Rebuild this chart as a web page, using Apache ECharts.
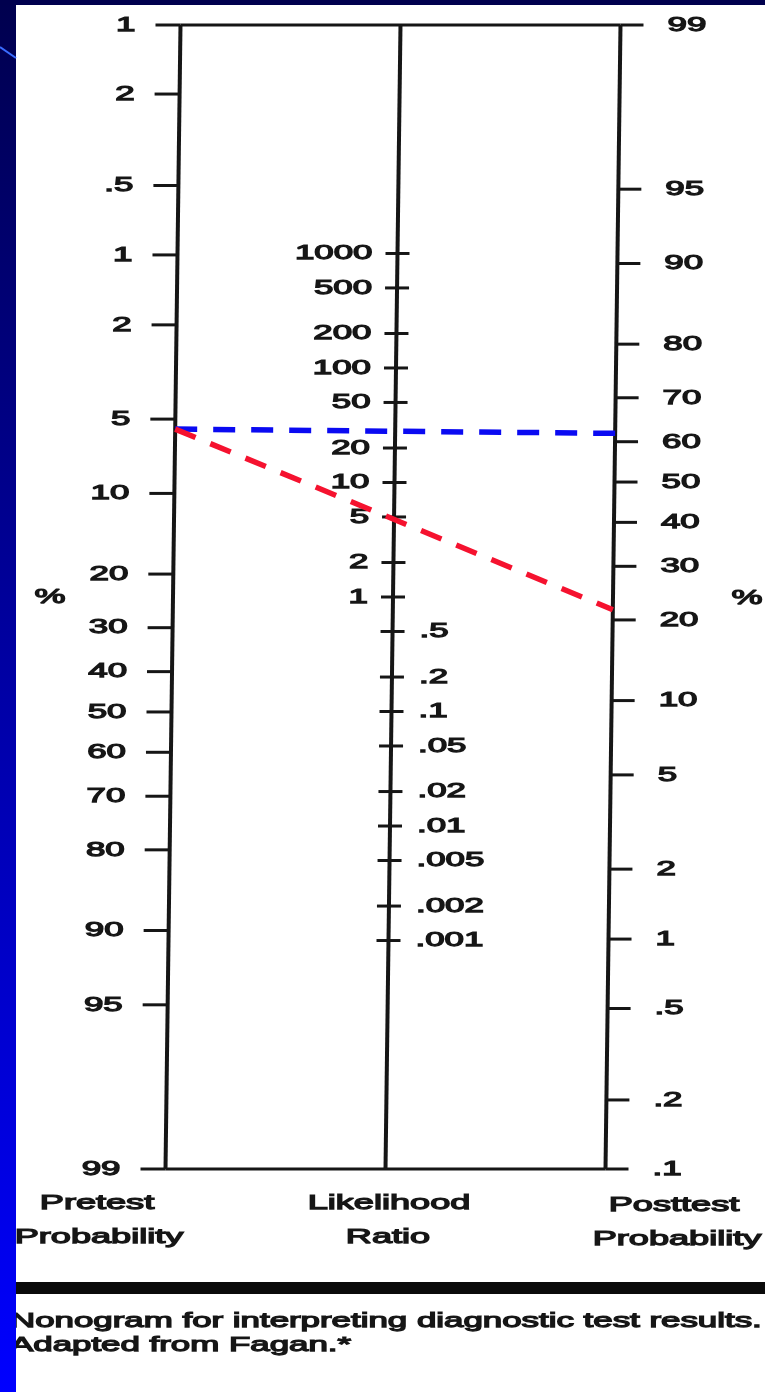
<!DOCTYPE html>
<html><head><meta charset="utf-8">
<script src="https://cdn.jsdelivr.net/npm/echarts@6/dist/echarts.min.js"></script>
<style>html,body{margin:0;padding:0;background:#fff}#c{width:765px;height:1392px}</style>
</head><body><div id="c"></div>
<script>
// ---- data ----
const pretestTicks = [0.1, 0.2, 0.5, 1, 2, 5, 10, 20, 30, 40, 50, 60, 70, 80, 90, 95, 99];
const pretestLabels = ['1', '2', '.5', '1', '2', '5', '10', '20', '30', '40', '50', '60', '70', '80', '90', '95', '99'];
const lrTicks = [1000, 500, 200, 100, 50, 20, 10, 5, 2, 1, 0.5, 0.2, 0.1, 0.05, 0.02, 0.01, 0.005, 0.002, 0.001];
const lrLabels = ['1000', '500', '200', '100', '50', '20', '10', '5', '2', '1', '.5', '.2', '.1', '.05', '.02', '.01', '.005', '.002', '.001'];
const posttestTicks = [99, 95, 90, 80, 70, 60, 50, 40, 30, 20, 10, 5, 2, 1, 0.5, 0.2, 0.1];
const posttestLabels = ['99', '95', '90', '80', '70', '60', '50', '40', '30', '20', '10', '5', '2', '1', '.5', '.2', '.1'];
const examplePretest = [5.5, 5.5];
const examplePosttest = [62, 21.7];
const exampleColors = ['#0a0af2', '#f5122f'];
const axisTitles = [['Pretest', 'Probability'], ['Likelihood', 'Ratio'], ['Posttest', 'Probability']];
const captionLines = ['Nonogram for interpreting diagnostic test results.', 'Adapted from Fagan.*'];

// ---- nomogram scales ----
const logit = pct => Math.log(pct / (100 - pct));
const VMIN = logit(Math.min(...pretestTicks));
const VMAX = logit(Math.max(...pretestTicks));
const vLeft = pct => logit(pct);
const vRight = pct => VMIN + VMAX - logit(pct);
const vMid = lr => (VMIN + VMAX - Math.log(lr)) / 2;

const FAMILY = '"Liberation Sans", Arial, sans-serif';
const FS = 21, SX = 1.66, INK = '#161616';
const SKEW = 0.0131;

function makePx(api) {
  const midY = api.coord([1, (VMIN + VMAX) / 2])[1];
  return (c, v) => { const p = api.coord([c, v]); return [p[0] + (midY - p[1]) * SKEW, p[1]]; };
}
function txt(x, y, text, align, sx) {
  return { type: 'text', x: x, y: y, scaleX: sx || SX, z2: 5,
    style: { text: text, x: 0, y: 0, align: align, verticalAlign: 'middle',
      font: FS + 'px ' + FAMILY, fill: INK, stroke: INK, lineWidth: 1.25 } };
}

function tickSeries(col, ticks, labels, vFn, kind) {
  return {
    type: 'custom', coordinateSystem: 'cartesian2d', silent: true, animation: false, clip: false,
    encode: { x: 0, y: 1 },
    data: ticks.map(t => [col, vFn(t), t]),
    renderItem: function (params, api) {
      const px = makePx(api);
      const p = px(api.value(0), api.value(1));
      const t = api.value(2);
      const lab = labels[params.dataIndex];
      let x1, x2, tx, al;
      if (kind === 'L') { x1 = p[0] - 25; x2 = p[0]; tx = p[0] - 45; al = 'right'; }
      else if (kind === 'R') { x1 = p[0]; x2 = p[0] + 23; tx = p[0] + 47; al = 'left'; }
      else {
        x1 = p[0] - 12; x2 = p[0] + 12;
        if (t >= 1) { tx = p[0] - 25; al = 'right'; } else { tx = p[0] + 27; al = 'left'; }
      }
      return { type: 'group', children: [
        { type: 'line', shape: { x1: x1, y1: p[1], x2: x2, y2: p[1] }, style: { stroke: INK, lineWidth: 3 } },
        txt(tx, p[1], lab, al)
      ] };
    }
  };
}

const option = {
  animation: false,
  backgroundColor: '#ffffff',
  grid: { left: 173, right: 152, top: 25, bottom: 223 },
  xAxis: { type: 'value', min: 0, max: 2, show: false },
  yAxis: { type: 'value', min: VMIN, max: VMAX, inverse: true, show: false },
  series: [
    { // three vertical scales
      type: 'custom', coordinateSystem: 'cartesian2d', silent: true, animation: false, clip: false,
      encode: { x: 0, y: [1, 2] },
      data: [[0, VMIN, VMAX], [1, VMIN, VMAX], [2, VMIN, VMAX]],
      renderItem: function (params, api) {
        const px = makePx(api);
        const a = px(api.value(0), api.value(1)), b = px(api.value(0), api.value(2));
        return { type: 'line', shape: { x1: a[0], y1: a[1], x2: b[0], y2: b[1] }, style: { stroke: INK, lineWidth: 4 } };
      }
    },
    { // top and bottom frame lines
      type: 'custom', coordinateSystem: 'cartesian2d', silent: true, animation: false, clip: false,
      encode: { x: [0, 2], y: 1 },
      data: [[0, VMIN, 2], [0, VMAX, 2]],
      renderItem: function (params, api) {
        const px = makePx(api);
        const a = px(api.value(0), api.value(1)), b = px(api.value(2), api.value(1));
        return { type: 'line', shape: { x1: a[0], y1: a[1], x2: b[0], y2: b[1] }, style: { stroke: INK, lineWidth: 3.2 } };
      }
    },
    tickSeries(0, pretestTicks, pretestLabels, vLeft, 'L'),
    tickSeries(1, lrTicks, lrLabels, vMid, 'M'),
    tickSeries(2, posttestTicks, posttestLabels, vRight, 'R'),
    { // example dashed lines
      type: 'custom', coordinateSystem: 'cartesian2d', silent: true, animation: false, clip: false, z: 5,
      encode: { x: [0, 2], y: [1, 3] },
      data: examplePretest.map((pre, i) => [0, vLeft(pre), 2, vRight(examplePosttest[i])]),
      renderItem: function (params, api) {
        const px = makePx(api);
        const a = px(api.value(0), api.value(1)), b = px(api.value(2), api.value(3));
        return { type: 'line', shape: { x1: a[0], y1: a[1], x2: b[0], y2: b[1] },
          style: { stroke: exampleColors[params.dataIndex], lineWidth: 5.5, lineDash: [22, 16] } };
      }
    }
  ],
  graphic: [
    { type: 'rect', x: 0, y: 0, z: 100, shape: { width: 16, height: 1392 },
      style: { fill: { type: 'linear', x: 0, y: 0, x2: 0, y2: 1,
        colorStops: [{ offset: 0, color: '#00004e' }, { offset: 1, color: '#0000ff' }] } } },
    { type: 'rect', x: 0, y: 0, z: 100, shape: { width: 765, height: 5 }, style: { fill: '#00004e' } },
    { type: 'line', z: 101, shape: { x1: 0, y1: 47, x2: 16, y2: 58 }, style: { stroke: '#3a6cff', lineWidth: 2 } },
    { type: 'rect', x: 16, y: 1282, z: 10, shape: { width: 749, height: 12 }, style: { fill: '#0a0a0a' } },
    txt(97, 1203, axisTitles[0][0], 'center', 1.72),
    txt(99, 1237, axisTitles[0][1], 'center', 1.72),
    txt(389, 1203, axisTitles[1][0], 'center', 1.72),
    txt(388, 1237, axisTitles[1][1], 'center', 1.72),
    txt(674, 1205, axisTitles[2][0], 'center', 1.72),
    txt(677, 1239, axisTitles[2][1], 'center', 1.72),
    txt(50, 597, '%', 'center'),
    txt(747, 598, '%', 'center'),
    txt(10, 1321, captionLines[0], 'left'),
    txt(10, 1345, captionLines[1], 'left')
  ]
};
const chart = echarts.init(document.getElementById('c'));
chart.setOption(option);
</script>
</body></html>
